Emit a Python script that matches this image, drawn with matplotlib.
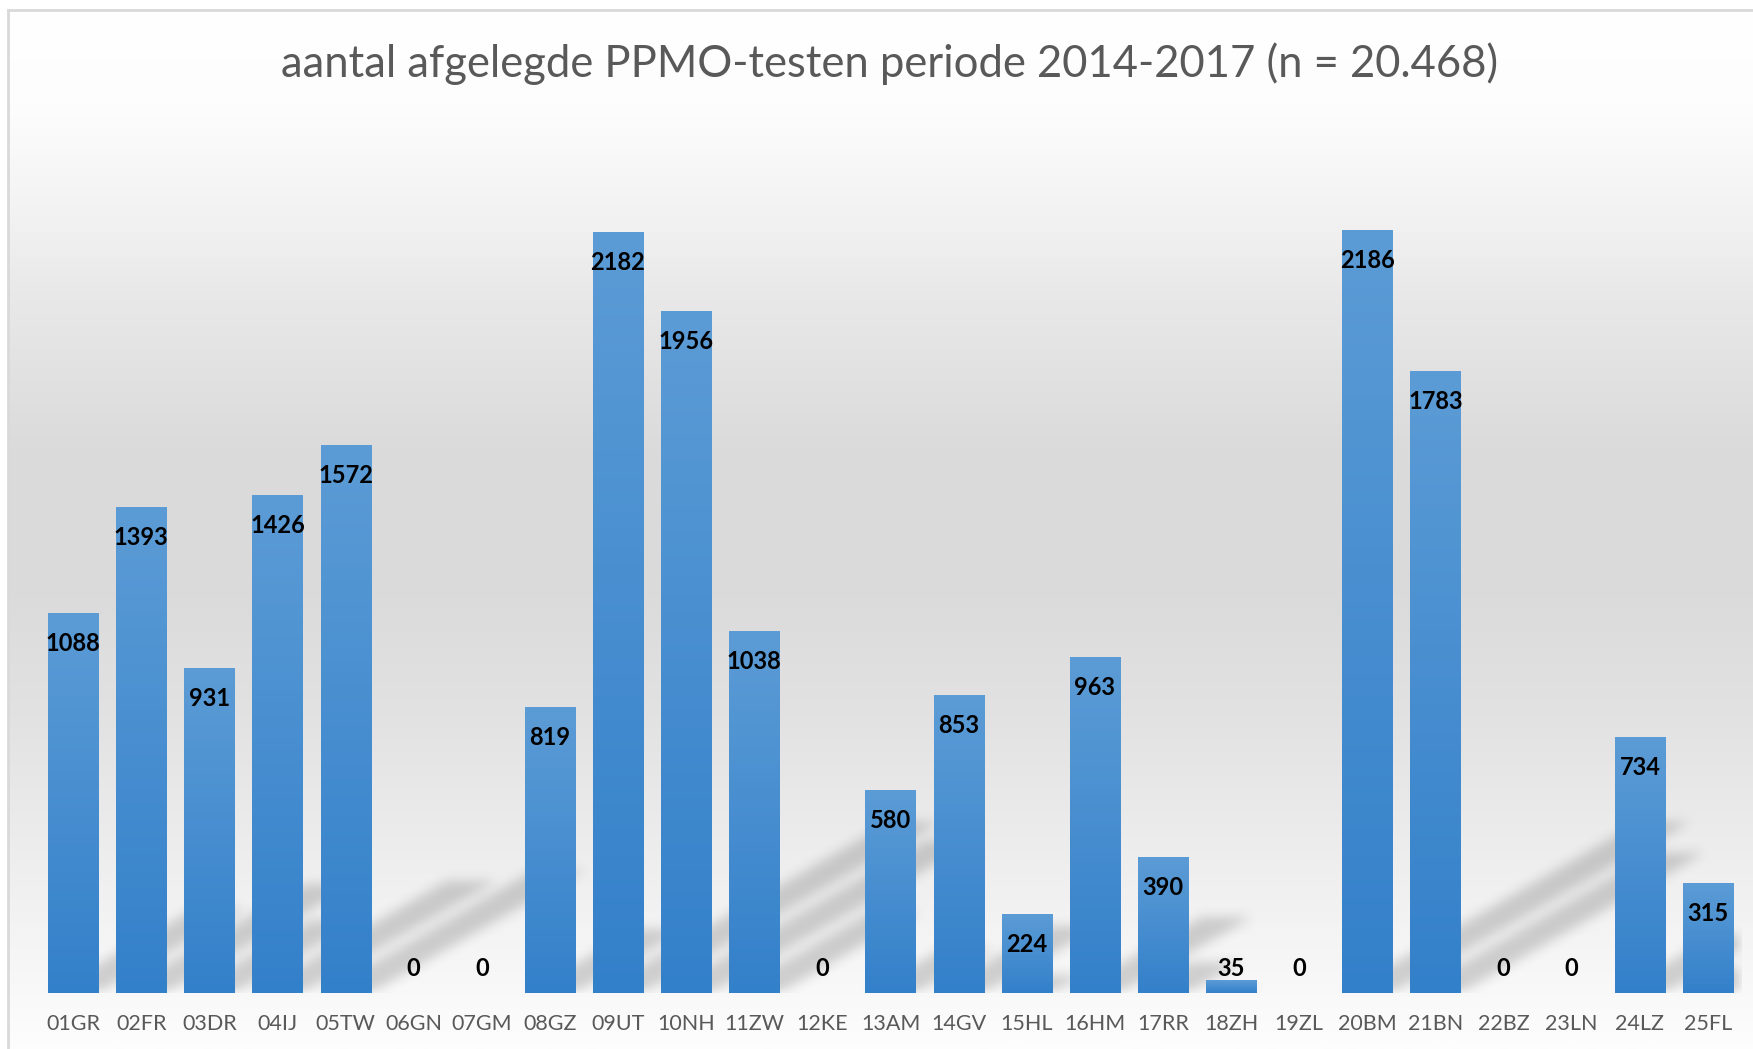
import numpy as np
import matplotlib.pyplot as plt
from matplotlib.path import Path
from matplotlib.colors import LinearSegmentedColormap

# PPMO-testen per regio, 2014-2017
regions = ['01GR', '02FR', '03DR', '04IJ', '05TW', '06GN', '07GM', '08GZ', '09UT',
           '10NH', '11ZW', '12KE', '13AM', '14GV', '15HL', '16HM', '17RR', '18ZH',
           '19ZL', '20BM', '21BN', '22BZ', '23LN', '24LZ', '25FL']
tests = [1088, 1393, 931, 1426, 1572, 0, 0, 819, 2182,
         1956, 1038, 0, 580, 853, 224, 963, 390, 35,
         0, 2186, 1783, 0, 0, 734, 315]
title = 'aantal afgelegde PPMO-testen periode 2014-2017 (n = 20.468)'

W, H = 1753, 1049
fig = plt.figure(figsize=(W / 100, H / 100), dpi=100)
fig.patch.set_facecolor('white')

# chart area background (vertical gray gradient) + border
bg = fig.add_axes([8 / W, 0, 1 - 8 / W, (H - 10) / H])
bg_cmap = LinearSegmentedColormap.from_list('bg', [
    (0.0, '#ffffff'), (0.09, '#fdfdfd'), (0.18, '#f4f4f4'), (0.27, '#e9e9e9'),
    (0.42, '#dbdbdb'), (0.55, '#dadada'), (0.68, '#e2e2e2'), (0.82, '#eeeeee'),
    (0.94, '#f8f8f8'), (1.0, '#fdfdfd')])
bg.imshow(np.linspace(0, 1, 512).reshape(-1, 1), cmap=bg_cmap, aspect='auto',
          extent=[0, 1, 0, 1], origin='upper')
bg.set_xlim(0, 1)
bg.set_ylim(0, 1)
bg.axis('off')
bg.plot([0, 0], [0, 1], color='#d9d9d9', lw=2, transform=bg.transAxes, clip_on=False)
bg.plot([0, 1], [1, 1], color='#d9d9d9', lw=2, transform=bg.transAxes, clip_on=False)

# plot area
px_per_unit = 0.3486
ax_w, ax_h = 1703, 906
ax = fig.add_axes([39 / W, 56 / H, ax_w / W, ax_h / H])
ax.set_facecolor('none')
x = np.arange(len(regions))
bw = 0.735
ymax = ax_h / px_per_unit
xlim = (-0.5, len(regions) - 0.5)

# soft diagonal shadows behind the bars
a_sh, b_sh = 0.002, 0.225
gx = xlim[0] + (np.arange(ax_w) + 0.5) / ax_w * (xlim[1] - xlim[0])
gy = (np.arange(ax_h) + 0.5) / ax_h * ymax
GX, GY = np.meshgrid(gx, gy)
pts = np.column_stack([GX.ravel(), GY.ravel()])
mask = np.zeros(GX.size)
for xi, v in zip(x, tests):
    if v <= 0:
        continue
    poly = Path([(xi - bw / 2, 0), (xi + bw / 2, 0),
                 (xi + bw / 2 + a_sh * v, b_sh * v), (xi - bw / 2 + a_sh * v, b_sh * v),
                 (xi - bw / 2, 0)])
    sel = (pts[:, 0] > xi - 1) & (pts[:, 0] < xi + 1 + a_sh * v) & (pts[:, 1] < b_sh * v + 5)
    inside = poly.contains_points(pts[sel])
    idx = np.where(sel)[0][inside]
    mask[idx] = 1.0
mask = mask.reshape(GX.shape)


def box_blur(m, r):
    k = np.ones(2 * r + 1) / (2 * r + 1)
    m = np.apply_along_axis(lambda c: np.convolve(c, k, mode='same'), 0, m)
    m = np.apply_along_axis(lambda c: np.convolve(c, k, mode='same'), 1, m)
    return m


for _ in range(3):
    mask = box_blur(mask, 5)
shadow = np.zeros(GX.shape + (4,))
shadow[..., :3] = 0.2
shadow[..., 3] = 0.21 * mask
ax.imshow(shadow, extent=[xlim[0], xlim[1], 0, ymax], origin='lower',
          aspect='auto', zorder=1, interpolation='bilinear')

# bars with vertical gradient
bar_cmap = LinearSegmentedColormap.from_list('bar', ['#3380ca', '#5c9cd6'])
grad = np.linspace(0, 1, 256).reshape(-1, 1)
for xi, v in zip(x, tests):
    if v <= 0:
        continue
    ax.imshow(grad, cmap=bar_cmap, extent=[xi - bw / 2, xi + bw / 2, 0, v],
              origin='lower', aspect='auto', zorder=2)

# value labels
for xi, v in zip(x, tests):
    ly = max(v - 30 / px_per_unit, 25 / px_per_unit)
    ax.text(xi, ly, str(v), ha='center', va='center', fontsize=17,
            fontweight='bold', family='Lato', color='black', zorder=3)

ax.set_xlim(*xlim)
ax.set_ylim(0, ymax)
ax.set_xticks(x)
ax.set_xticklabels(regions, family='Lato', fontsize=15.5, color='#595959')
ax.tick_params(axis='x', length=0, pad=15)
ax.set_yticks([])
for s in ax.spines.values():
    s.set_visible(False)

fig.text(890 / W, 1 - 64 / H, title, ha='center', va='center', fontsize=31.4,
         family='Lato', color='#595959')

fig.savefig('out.png', dpi=100)
